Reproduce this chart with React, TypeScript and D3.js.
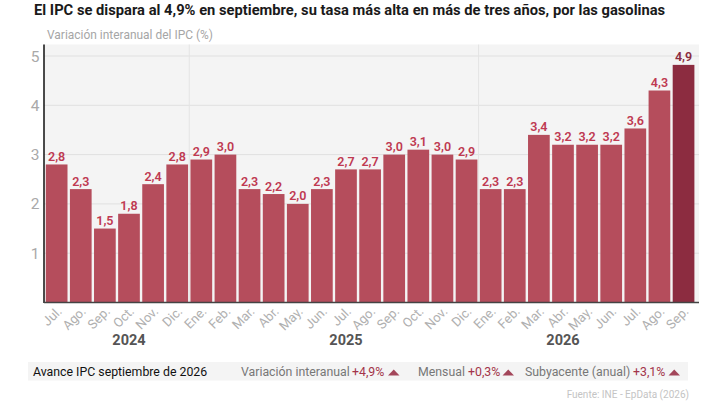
import React from 'react';
import * as d3 from 'd3';

const months = ['Jul.', 'Ago.', 'Sep.', 'Oct.', 'Nov.', 'Dic.', 'Ene.', 'Feb.', 'Mar.', 'Abr.', 'May.', 'Jun.', 'Jul.', 'Ago.', 'Sep.', 'Oct.', 'Nov.', 'Dic.', 'Ene.', 'Feb.', 'Mar.', 'Abr.', 'May.', 'Jun.', 'Jul.', 'Ago.', 'Sep.'];
// printed labels
const labels = [2.8, 2.3, 1.5, 1.8, 2.4, 2.8, 2.9, 3.0, 2.3, 2.2, 2.0, 2.3, 2.7, 2.7, 3.0, 3.1, 3.0, 2.9, 2.3, 2.3, 3.4, 3.2, 3.2, 3.2, 3.6, 4.3, 4.9];
// bar heights as drawn, the last Jul. and Sep. bars stand a bit lower than their labels
const values = [2.8, 2.3, 1.5, 1.8, 2.4, 2.8, 2.9, 3.0, 2.3, 2.2, 2.0, 2.3, 2.7, 2.7, 3.0, 3.1, 3.0, 2.9, 2.3, 2.3, 3.4, 3.2, 3.2, 3.2, 3.53, 4.3, 4.82];
const yTicks = [1, 2, 3, 4, 5];
const years = ['2024', '2025', '2026'];
const yearAnchor = [3, 12, 21];
const yearStarts = [6, 18];

const FONT = 'Roboto, sans-serif';
const fmt = (v: number) => d3.format('.1f')(v).replace('.', ',');

const x = d3.scaleBand<number>().domain(d3.range(months.length)).range([44.6, 695.6]).paddingInner(0.1).paddingOuter(0.05);
const y = d3.scaleLinear().domain([0, 5]).range([302.5, 56]);

const Tri = ({ x0 }: { x0: number }) => {
  const line = d3.line();
  return <path d={line([[x0, 375.5], [x0 + 11.5, 375.5], [x0 + 5.75, 369.5]]) + 'Z'} fill="#a3465a" />;
};

// Roboto squeezed horizontally, the reference uses a condensed cut
const Squeezed = ({ x0, yy = 376, sx = 0.913, fill, weight = 400, size = 13.5, anchor = 'start', children }: any) => (
  <text transform={`translate(${x0},${yy}) scale(${sx},1)`} fontSize={size} fontWeight={weight} fill={fill} textAnchor={anchor}>{children}</text>
);

export default function App() {
  const gap = x.step() - x.bandwidth();
  return (
    <svg width={720} height={405} style={{ position: 'absolute', left: 0, top: 0, background: '#fff' }} fontFamily={FONT}>
      <Squeezed x0={34} yy={14.5} sx={0.95} size={15.5} weight={700} fill="#1a1a1a">
        El IPC se dispara al 4,9% en septiembre, su tasa más alta en más de tres años, por las gasolinas
      </Squeezed>
      <Squeezed x0={47} yy={39} sx={0.92} size={13} fill="#a6a6a6">Variación interanual del IPC (%)</Squeezed>

      <rect x={44} y={44.5} width={655} height={258} fill="#f4f4f4" />
      {yTicks.map(t => (
        <g key={t}>
          <line x1={44} x2={699} y1={y(t)} y2={y(t)} stroke="#e0e0e0" strokeWidth={1} />
          <text x={35} y={y(t) + 5.5} textAnchor="middle" fontSize={15.5} fill="#a9a9a9">{t}</text>
        </g>
      ))}
      {yearStarts.map(i => (
        <line key={i} x1={x(i)! - gap / 2} x2={x(i)! - gap / 2} y1={44.5} y2={302} stroke="#e4e4e4" strokeWidth={1} />
      ))}

      {values.map((v, i) => {
        const last = i === values.length - 1;
        const cx = x(i)! + x.bandwidth() / 2;
        return (
          <g key={i}>
            <rect x={x(i)!} y={y(v)} width={x.bandwidth()} height={y(0) - y(v)} fill={last ? '#8c2c40' : '#b54d5c'} />
            <Squeezed x0={cx} yy={y(v) - 3.5} sx={0.93} size={13.5} weight={600} anchor="middle" fill={last ? '#8c2c40' : '#bf3a52'}>{fmt(labels[i])}</Squeezed>
          </g>
        );
      })}

      <line x1={44} x2={44} y1={44.5} y2={303} stroke="#111" strokeWidth={1.5} />
      <line x1={44} x2={699} y1={302.5} y2={302.5} stroke="#444" strokeWidth={1.5} />

      {months.map((m, i) => {
        const cx = x(i)! + x.bandwidth() / 2;
        return (
          <text key={i} transform={`translate(${cx + 6},${312}) rotate(-45)`} textAnchor="end" fontSize={13} fill="#b0b0b0">{m}</text>
        );
      })}
      {years.map((yr, i) => (
        <text key={yr} x={x(yearAnchor[i])! + x.bandwidth() / 2} y={345} textAnchor="middle" fontSize={14.5} fontWeight={700} fill="#555">{yr}</text>
      ))}

      <rect x={28} y={362} width={660} height={18.5} fill="#f4f4f4" />
      <Squeezed x0={33} fill="#111">Avance IPC septiembre de 2026</Squeezed>
      <Squeezed x0={241} fill="#777">Variación interanual</Squeezed>
      <Squeezed x0={352} fill="#a3344a">+4,9%</Squeezed>
      <Tri x0={388} />
      <Squeezed x0={418} fill="#777">Mensual</Squeezed>
      <Squeezed x0={468} fill="#a3344a">+0,3%</Squeezed>
      <Tri x0={502.5} />
      <Squeezed x0={525} fill="#777">Subyacente (anual)</Squeezed>
      <Squeezed x0={633} fill="#a3344a">+3,1%</Squeezed>
      <Tri x0={668.5} />

      <text x={689} y={398} textAnchor="end" fontSize={10} fill="#c4c4c4">Fuente: INE - EpData (2026)</text>
    </svg>
  );
}
